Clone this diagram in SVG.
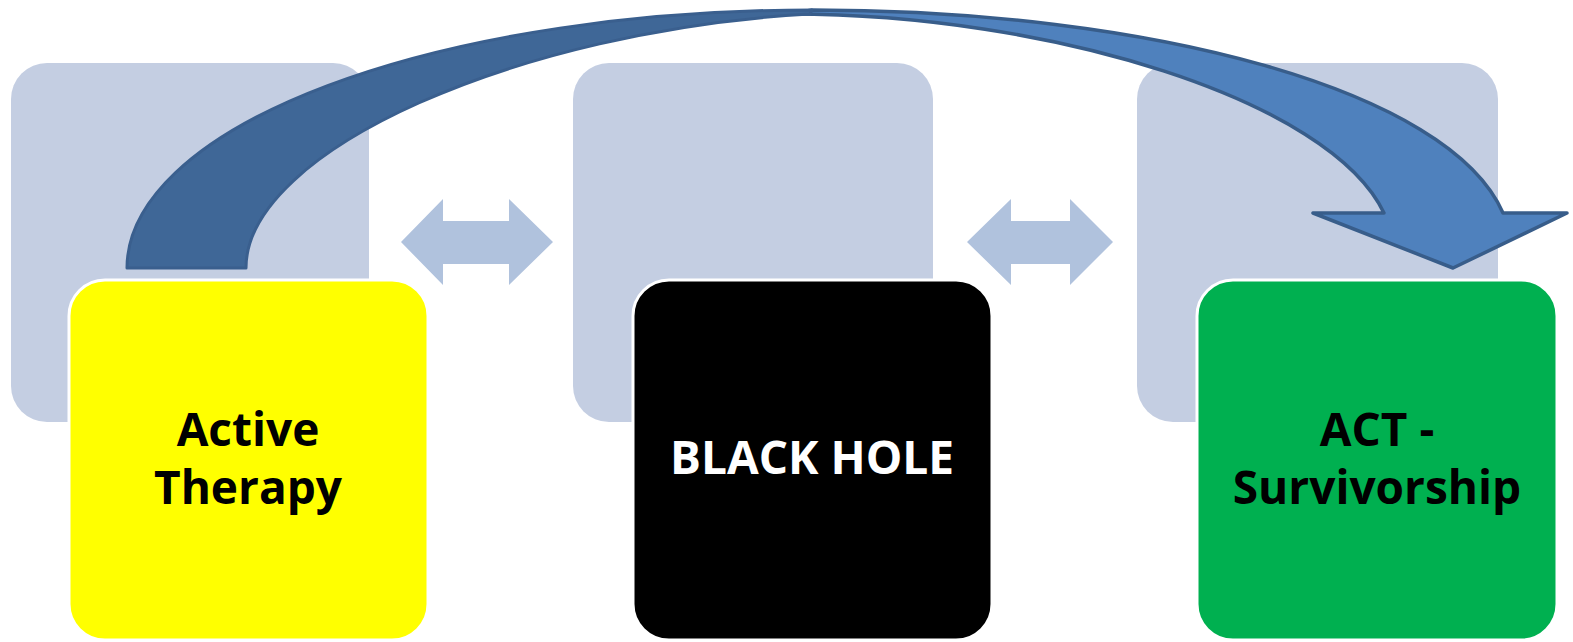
<svg xmlns="http://www.w3.org/2000/svg" width="1573" height="642" viewBox="0 0 1573 642">
<style>
.bg{fill:#C4CEE2}
.dbl{fill:#B0C2DD}
.front{stroke:#FFFFFF;stroke-width:3}
.lbl{font-family:"Open Sans","Liberation Sans",sans-serif;font-weight:bold;font-size:46px;text-anchor:middle}
</style>
<rect width="1573" height="642" fill="#FFFFFF"/>
<g id="bg-boxes">
<rect class="bg" x="11" y="63" width="358" height="359" rx="36"/>
<rect class="bg" x="573" y="63" width="360" height="359" rx="36"/>
<rect class="bg" x="1137" y="63" width="361" height="359" rx="36"/>
</g>
<g id="connectors">
<polygon class="dbl" points="401,242 443,199 443,221 509,221 509,199 553,242 509,285 509,264 443,264 443,285"/>
<polygon class="dbl" points="967,242 1011,199 1011,221 1070,221 1070,199 1113,242 1070,285 1070,264 1011,264 1011,285"/>
<path d="M812,10 C1150,10 1450,90 1503,213 L1567,213 L1453,268 L1313,213 L1384,213 C1330,100 1050,14 790,14 Z" fill="#4F81BD" stroke="#385D8A" stroke-width="3.5" stroke-linejoin="round"/>
<path d="M127,268 A685,258 0 0 1 812,10 L810,14 C520,30 246,150 246,268 Z" fill="#3F6797" stroke="#3A5F8E" stroke-width="3" stroke-linejoin="round"/>
</g>
<g id="node-active-therapy">
<rect class="front" x="69" y="280" width="359" height="360" rx="36" fill="#FFFF00"/>
<text class="lbl" x="248" y="446" fill="#000000">Active</text>
<text class="lbl" x="248" y="504" fill="#000000">Therapy</text>
</g>
<g id="node-black-hole">
<rect class="front" x="633" y="280" width="359" height="360" rx="36" fill="#000000"/>
<text class="lbl" x="812" y="474" fill="#FFFFFF">BLACK HOLE</text>
</g>
<g id="node-act-survivorship">
<rect class="front" x="1197" y="280" width="360" height="360" rx="36" fill="#00B050"/>
<text class="lbl" x="1377" y="446" fill="#000000">ACT -</text>
<text class="lbl" x="1377" y="504" fill="#000000">Survivorship</text>
</g>
</svg>
